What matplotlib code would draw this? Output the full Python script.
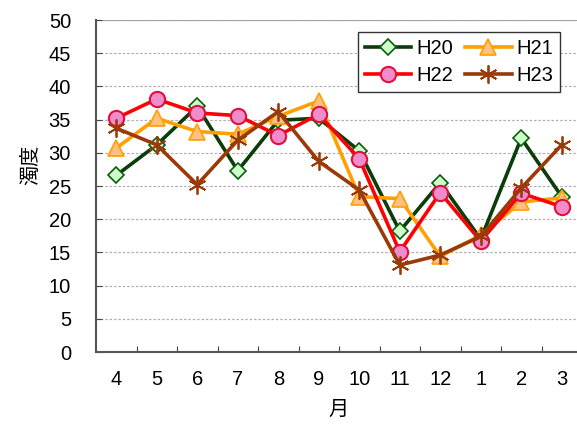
import matplotlib
matplotlib.use('Agg')
import matplotlib.pyplot as plt
import numpy as np

# 月別濁度
months = ['4', '5', '6', '7', '8', '9', '10', '11', '12', '1', '2', '3']
h20 = [26.6, 31.2, 37.0, 27.3, 34.9, 35.2, 30.3, 18.2, 25.5, 17.0, 32.2, 23.4]
h21 = [30.7, 35.2, 33.2, 32.8, 35.5, 37.8, 23.4, 23.1, 14.4, 17.6, 22.6, 23.2]
h22 = [35.2, 38.1, 36.0, 35.6, 32.6, 35.8, 29.1, 15.1, 24.0, 16.7, 23.9, 21.9]
h23 = [33.7, 31.2, 25.2, 31.9, 36.2, 28.7, 24.4, 13.1, 14.6, 17.4, 24.7, 31.2]
yticks = np.arange(0, 51, 5)

plt.rcParams['font.family'] = ['Liberation Sans', 'Noto Sans CJK JP', 'DejaVu Sans']

fig = plt.figure(figsize=(5.77, 4.28), dpi=100)
ax = fig.add_axes([96 / 577, 1 - 352 / 428, 486 / 577, 332 / 428])

x = np.arange(len(months))

l20, = ax.plot(x, h20, color='#0b3d0b', lw=2.6, marker='D', ms=8.5,
               mfc='#ccffcc', mec='#0b5d0b', mew=1.2, label='H20', zorder=3)
l21, = ax.plot(x, h21, color='#ffa000', lw=2.6, marker='^', ms=11,
               mfc='#ffc080', mec='#ffa000', mew=1.2, label='H21', zorder=4)
l22, = ax.plot(x, h22, color='#ff0000', lw=2.6, marker='o', ms=11,
               mfc='#f08ccc', mec='#e0103a', mew=1.5, label='H22', zorder=5)
l23, = ax.plot(x, h23, color='#9a3a08', lw=2.6, marker=(6, 2, 0), ms=13,
               mfc='#9a3a08', mec='#9a3a08', mew=1.3, label='H23', zorder=6)

ax.set_xlim(-0.5, len(months) - 0.5)
ax.set_ylim(0, 50)

# 目盛線
for v in yticks[1:]:
    ax.axhline(v, color='#b0b0b0', lw=0.9, ls=(0, (2, 1.5)), zorder=1)
ax.axhline(50, color='#a0a0a0', lw=1.5, zorder=1)

ax.set_yticks(yticks)
ax.tick_params(axis='y', direction='in', length=4, pad=18, labelsize=14.5,
               color='#444444')
ax.set_xticks(np.arange(0.5, len(months) - 0.5, 1.0))
ax.set_xticklabels([])
ax.set_xticks(x, minor=True)
ax.set_xticklabels(months, minor=True)
ax.tick_params(axis='x', which='major', direction='in', length=4, color='#444444')
ax.tick_params(axis='x', which='minor', length=0, pad=13, labelsize=14.5)

for s in ['top', 'right']:
    ax.spines[s].set_visible(False)
for s in ['left', 'bottom']:
    ax.spines[s].set_color('#555555')
    ax.spines[s].set_linewidth(1.5)

ax.set_ylabel('濁度', fontsize=14.5)
ax.yaxis.set_label_coords(-0.115, 0.565)
ax.set_xlabel('月', fontsize=14.5, labelpad=8)

leg = ax.legend([l20, l22, l21, l23], ['H20', 'H22', 'H21', 'H23'], ncol=2,
                loc='upper left', bbox_to_anchor=(0.539, 0.964), borderaxespad=0,
                fontsize=14.5, frameon=True, fancybox=False, framealpha=1,
                edgecolor='#333333', handlelength=2.3, handletextpad=0.25,
                columnspacing=0.6, borderpad=0.35, labelspacing=0.4)
leg.get_frame().set_linewidth(1.0)

fig.savefig('out.png', dpi=100)
